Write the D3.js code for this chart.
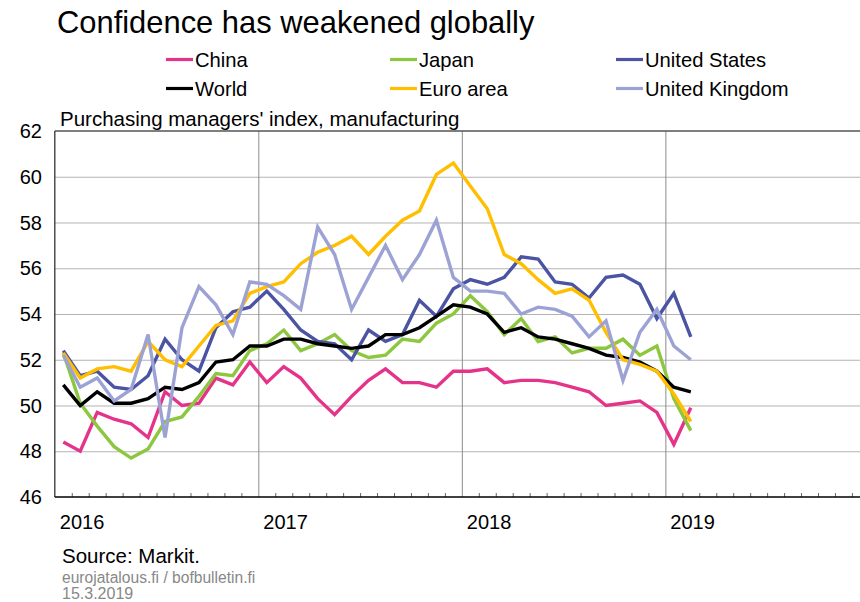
<!DOCTYPE html>
<html>
<head>
<meta charset="utf-8">
<script src="https://cdn.jsdelivr.net/npm/d3@7"></script>
<style>
  html, body { margin: 0; padding: 0; background: #fff; }
  svg { display: block; font-family: "Liberation Sans", Arial, sans-serif; }
</style>
</head>
<body>
<svg id="chart" width="860" height="602"></svg>
<script>
// ---- Data (monthly, Jan 2016 – Feb 2019) ----
const startYear = 2016;
const yearLabels = ["2016", "2017", "2018", "2019"];
const yTicks = [46, 48, 50, 52, 54, 56, 58, 60, 62];

const china = [48.4,48.0,49.7,49.4,49.2,48.6,50.6,50.0,50.1,51.2,50.9,51.9,
               51.0,51.7,51.2,50.3,49.6,50.4,51.1,51.6,51.0,51.0,50.8,51.5,
               51.5,51.6,51.0,51.1,51.1,51.0,50.8,50.6,50.0,50.1,50.2,49.7,
               48.3,49.9];
const japan = [52.3,50.1,49.1,48.2,47.7,48.1,49.3,49.5,50.4,51.4,51.3,52.4,
               52.7,53.3,52.4,52.7,53.1,52.4,52.1,52.2,52.9,52.8,53.6,54.0,
               54.8,54.1,53.1,53.8,52.8,53.0,52.3,52.5,52.5,52.9,52.2,52.6,
               50.3,48.9];
const unitedStates = [52.4,51.3,51.5,50.8,50.7,51.3,52.9,52.0,51.5,53.4,54.1,54.3,
               55.0,54.2,53.3,52.8,52.7,52.0,53.3,52.8,53.1,54.6,53.9,55.1,
               55.5,55.3,55.6,56.5,56.4,55.4,55.3,54.7,55.6,55.7,55.3,53.8,
               54.9,53.0];
const world = [50.9,50.0,50.6,50.1,50.1,50.3,50.8,50.7,51.0,51.9,52.0,52.6,
               52.6,52.9,52.9,52.7,52.6,52.5,52.6,53.1,53.1,53.4,53.9,54.4,
               54.3,54.0,53.2,53.4,53.0,52.9,52.7,52.5,52.2,52.1,51.9,51.5,
               50.8,50.6];
const euroArea = [52.3,51.2,51.6,51.7,51.5,52.8,52.0,51.7,52.6,53.5,53.7,54.9,
               55.2,55.4,56.2,56.7,57.0,57.4,56.6,57.4,58.1,58.5,60.1,60.6,
               59.6,58.6,56.6,56.2,55.5,54.9,55.1,54.6,53.2,52.0,51.8,51.5,
               50.5,49.3];
const unitedKingdom = [52.2,50.8,51.2,50.2,50.7,53.1,48.6,53.4,55.2,54.4,53.1,55.4,
               55.3,54.8,54.2,57.8,56.6,54.2,55.6,57.0,55.5,56.6,58.1,55.6,
               55.0,55.0,54.9,54.0,54.3,54.2,53.9,53.0,53.7,51.1,53.2,54.2,
               52.6,52.0];

const seriesNames = ["China", "Japan", "United States", "World", "Euro area", "United Kingdom"];
const seriesValues = [china, japan, unitedStates, world, euroArea, unitedKingdom];
const seriesColors = ["#e6338a", "#8dc63f", "#4a54a3", "#000000", "#ffbf00", "#9ca3d4"];

// ---- Layout ----
const svg = d3.select("#chart");
const plotLeft = 54.8, monthW = 16.96, nMonths = 48;
const x = d3.scaleLinear().domain([0, nMonths]).range([plotLeft, plotLeft + nMonths * monthW]);
const y = d3.scaleLinear().domain([46, 62]).range([497, 131]);
const plotTop = y(62), plotBottom = y(46), plotRight = x(nMonths);

// Horizontal gridlines
svg.append("g")
  .attr("transform", `translate(${plotLeft},0)`)
  .call(d3.axisLeft(y).tickValues(yTicks.slice(1, -1)).tickSize(-(plotRight - plotLeft)).tickFormat(""))
  .call(g => g.select(".domain").remove())
  .call(g => g.selectAll("line").attr("stroke", "#b3b3b3").attr("stroke-width", 1.2));

// Vertical year gridlines
const yearStarts = d3.range(1, nMonths / 12).map(i => i * 12);
svg.append("g")
  .attr("transform", `translate(0,${plotBottom})`)
  .call(d3.axisBottom(x).tickValues(yearStarts).tickSize(-(plotBottom - plotTop)).tickFormat(""))
  .call(g => g.select(".domain").remove())
  .call(g => g.selectAll("line").attr("stroke", "#8c8c8c").attr("stroke-width", 1));

// Month ticks (upward)
svg.append("g")
  .attr("transform", `translate(0,${plotBottom})`)
  .call(d3.axisBottom(x).tickValues(d3.range(1, nMonths).filter(m => m % 12 !== 0)).tickSize(-4).tickFormat(""))
  .call(g => g.select(".domain").remove())
  .call(g => g.selectAll("line").attr("stroke", "#666").attr("stroke-width", 1));

// Top border
svg.append("line").attr("x1", plotLeft).attr("x2", plotRight).attr("y1", plotTop).attr("y2", plotTop)
  .attr("stroke", "#555").attr("stroke-width", 1.3);
// Left axis
svg.append("line").attr("x1", plotLeft).attr("x2", plotLeft).attr("y1", plotTop).attr("y2", plotBottom)
  .attr("stroke", "#333").attr("stroke-width", 1.3);
// Bottom axis
svg.append("line").attr("x1", plotLeft).attr("x2", plotRight).attr("y1", plotBottom).attr("y2", plotBottom)
  .attr("stroke", "#000").attr("stroke-width", 1.5);

// Y tick labels
svg.append("g").selectAll("text").data(yTicks).join("text")
  .attr("x", 42).attr("y", d => y(d) + 7)
  .attr("text-anchor", "end").attr("font-size", 20).attr("fill", "#000")
  .text(d => d);

// X year labels
svg.append("g").selectAll("text").data(yearLabels).join("text")
  .attr("x", (d, i) => x(i * 12) + 5).attr("y", 529)
  .attr("font-size", 20).attr("fill", "#000")
  .text(d => d);

// Lines
const line = d3.line().x((d, i) => x(i + 0.5)).y(d => y(d)).curve(d3.curveLinear);
svg.append("g").selectAll("path").data(seriesValues).join("path")
  .attr("d", d => line(d))
  .attr("fill", "none")
  .attr("stroke", (d, i) => seriesColors[i])
  .attr("stroke-width", 3.4)
  .attr("stroke-linejoin", "miter")
  .attr("stroke-linecap", "butt");

// Title and subtitle
svg.append("text").attr("x", 57).attr("y", 33).attr("font-size", 30.9).attr("fill", "#000")
  .text("Confidence has weakened globally");
svg.append("text").attr("x", 60).attr("y", 126).attr("font-size", 20.5).attr("fill", "#000")
  .text("Purchasing managers' index, manufacturing");

// Legend (2 rows x 3 columns, row-major)
const legX = [166, 390, 616];
const legY = [59.5, 88.5];
const leg = svg.append("g").selectAll("g").data(seriesNames).join("g")
  .attr("transform", (d, i) => `translate(${legX[i % 3]},${legY[Math.floor(i / 3)]})`);
leg.append("line").attr("x1", 0).attr("x2", 27).attr("y1", 0).attr("y2", 0)
  .attr("stroke", (d, i) => seriesColors[i]).attr("stroke-width", 3.2);
leg.append("text").attr("x", 29).attr("y", 7).attr("font-size", 20.2).attr("fill", "#000")
  .text(d => d);

// Footer
svg.append("text").attr("x", 62).attr("y", 563).attr("font-size", 20.5).attr("fill", "#000")
  .text("Source: Markit.");
svg.append("text").attr("x", 62).attr("y", 583).attr("font-size", 15.6).attr("fill", "#888")
  .text("eurojatalous.fi / bofbulletin.fi");
svg.append("text").attr("x", 62).attr("y", 599).attr("font-size", 16).attr("fill", "#888")
  .text("15.3.2019");
</script>
</body>
</html>
